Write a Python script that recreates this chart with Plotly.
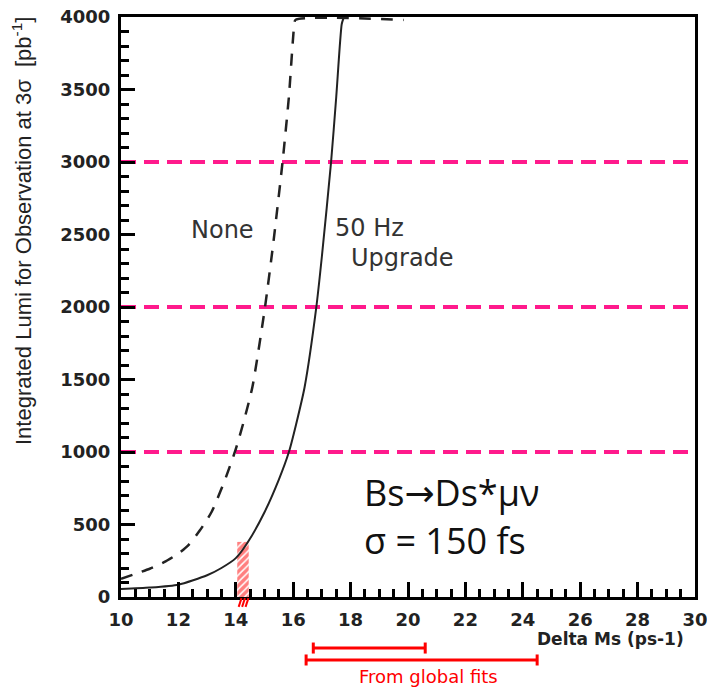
import plotly.graph_objects as go

# Luminosity needed for a 3-sigma observation vs. Delta Ms
none_x = [10.0, 10.5, 11.0, 11.5, 12.0, 12.35, 12.75, 13.16, 13.62, 13.97, 14.26,
          14.58, 15.02, 15.3, 15.63, 15.85, 16.03, 16.08, 19.85]
none_y = [125, 160, 195, 240, 300, 358, 460, 588, 807, 1002, 1198,
          1450, 2002, 2430, 3002, 3450, 3933, 3980, 3980]

upg_x = [10.0, 11.0, 12.0, 13.0, 13.5, 14.0, 14.4, 15.0, 15.5, 15.85, 16.1,
         16.4, 16.8, 17.0, 17.32, 17.5, 17.69, 17.75]
upg_y = [55, 65, 85, 150, 200, 268, 372, 585, 810, 1000, 1190,
         1450, 1990, 2350, 3000, 3450, 3950, 3990]

# Reference luminosity levels
lumi_levels = [1000, 2000, 3000]

# Excluded region (hatched)
excl_x = [14.05, 14.45]
excl_top = 380

# Global-fit ranges for Delta Ms
fit_ranges = [(16.7, 20.6), (16.45, 24.5)]

x_ticks = list(range(10, 31, 2))
y_ticks = list(range(0, 4001, 500))

pink = "#ff1a8c"
red = "#ff0000"
ink = "#222222"

fig = go.Figure()

for lv in lumi_levels:
    fig.add_trace(go.Scatter(x=[10, 30], y=[lv, lv], mode="lines",
                             line=dict(color=pink, width=4, dash="15px,8px"),
                             hoverinfo="skip", showlegend=False))

fig.add_trace(go.Scatter(
    x=[excl_x[0], excl_x[1], excl_x[1], excl_x[0], excl_x[0]],
    y=[0, 0, excl_top, excl_top, 0],
    mode="lines", fill="toself", line=dict(width=0, color=red),
    fillcolor="rgba(0,0,0,0)",
    fillpattern=dict(shape="/", fgcolor=red, bgcolor="rgba(0,0,0,0)",
                     size=5, solidity=0.7),
    hoverinfo="skip", showlegend=False))

fig.add_trace(go.Scatter(x=none_x, y=none_y, mode="lines",
                         line=dict(color=ink, width=2.5, dash="12px,10px",
                                   shape="spline", smoothing=0.6),
                         showlegend=False))
fig.add_trace(go.Scatter(x=upg_x, y=upg_y, mode="lines",
                         line=dict(color=ink, width=2, shape="spline", smoothing=0.6),
                         showlegend=False))

# Hatch strokes continuing just below the axis
for i in range(3):
    xs = excl_x[0] + 0.05 + i * 0.12
    fig.add_shape(type="line", xref="x", yref="paper", x0=xs, x1=xs + 0.1,
                  y0=-0.017, y1=-0.002, line=dict(color=red, width=2))

# Fit-range bars below the axis
bar_y = [-0.088, -0.1086]
cap = 0.0095
for (x0, x1), yb in zip(fit_ranges, bar_y):
    fig.add_shape(type="line", xref="x", yref="paper", x0=x0, x1=x1, y0=yb, y1=yb,
                  line=dict(color=red, width=3))
    for xc in (x0, x1):
        fig.add_shape(type="line", xref="x", yref="paper", x0=xc, x1=xc,
                      y0=yb - cap, y1=yb + cap, line=dict(color=red, width=3))

label_font = dict(family="DejaVu Sans", size=24, color="#333333")
fig.add_annotation(x=13.55, y=2531, text="None", showarrow=False, font=label_font)
fig.add_annotation(x=17.4, y=2545, text="50 Hz", showarrow=False, xanchor="left",
                   font=label_font)
fig.add_annotation(x=17.95, y=2338, text="Upgrade", showarrow=False, xanchor="left",
                   font=label_font)

big_font = dict(family="Open Sans", size=36, color="#111111")
fig.add_annotation(x=18.4, y=724,
                   text="Bs<span style='font-family:DejaVu Sans'>→</span>Ds*μν",
                   showarrow=False, xanchor="left", font=big_font)
fig.add_annotation(x=18.4, y=393, text="σ = 150 fs", showarrow=False, xanchor="left",
                   font=big_font)

fig.add_annotation(xref="paper", yref="paper", x=0.984, y=-0.073,
                   text="<b>Delta Ms (ps-1)</b>", showarrow=False,
                   xanchor="right", yanchor="middle",
                   font=dict(family="DejaVu Sans", size=17, color=ink))
fig.add_annotation(xref="x", yref="paper", x=20.7, y=-0.1375,
                   text="From global fits", showarrow=False,
                   xanchor="center", yanchor="middle",
                   font=dict(family="DejaVu Sans", size=18, color=red))
fig.add_annotation(xref="paper", yref="paper", x=-0.1725, y=0.631,
                   text="Integrated Lumi for Observation at 3σ  [pb<sup>-1</sup>]",
                   textangle=-90, showarrow=False, xanchor="center", yanchor="middle",
                   font=dict(family="Liberation Sans", size=22, color=ink))

tick_font = dict(family="DejaVu Sans", size=18, color=ink, weight="bold")

fig.update_xaxes(range=[10, 30], tickvals=x_ticks, ticktext=[str(v) for v in x_ticks],
                 ticks="inside", ticklen=15, tickwidth=2.5, tickcolor="black",
                 minor=dict(dtick=0.5, ticks="inside", ticklen=8, tickwidth=2.5,
                            tickcolor="black"),
                 showline=True, linewidth=3, linecolor="black", mirror=True,
                 showgrid=False, zeroline=False, tickfont=tick_font,
                 ticklabelstandoff=4, automargin=False, ticklabeloverflow="allow")
fig.update_yaxes(range=[0, 4000], tickvals=y_ticks, ticktext=[str(v) for v in y_ticks],
                 ticks="inside", ticklen=14, tickwidth=2.5, tickcolor="black",
                 minor=dict(dtick=100, ticks="inside", ticklen=8, tickwidth=2.5,
                            tickcolor="black"),
                 showline=True, linewidth=3, linecolor="black", mirror=True,
                 showgrid=False, zeroline=False, tickfont=tick_font,
                 ticklabelstandoff=4, automargin=False, ticklabeloverflow="allow")

fig.update_layout(width=707, height=688, margin=dict(l=121, r=12, t=17, b=91),
                  plot_bgcolor="white", paper_bgcolor="white")

fig.write_html("out.html")
